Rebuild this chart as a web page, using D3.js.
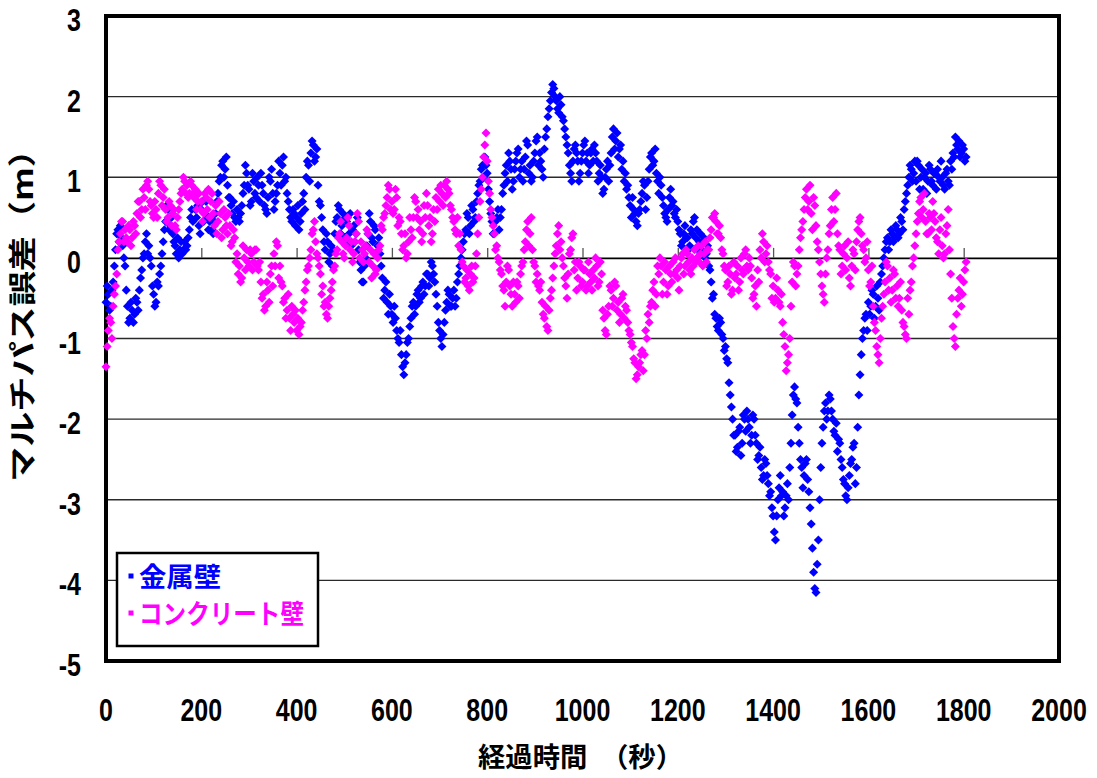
<!DOCTYPE html>
<html><head><meta charset="utf-8">
<script src="https://cdn.jsdelivr.net/npm/d3@7"></script>
<style>body{margin:0;background:#fff} svg{display:block}</style>
</head><body>
<svg id="chart" width="1097" height="778"></svg>
<script>
// ---- data (in metres) ----
const seriesNames = ["金属壁", "コンクリート壁"];
const seriesColors = ["#0000ff", "#ff00ff"];
const sampleStep = 5;      // seconds between consecutive values of one array
const halfOffset = 2.5;    // the "Half" arrays start at 2.5 s
// 金属壁, samples at 0, 5, 10, ... s
const metalWall = [
-0.55,-0.45,-0.6,-0.3,0.1,0.35,0.4,0.15,-0.1,-0.6,-0.75,-0.65,-0.7,-0.55,-0.4,-0.15,0.05,0.3,0.15,-0.1,
-0.45,-0.55,-0.35,-0.1,0.2,0.45,0.6,0.4,0.3,0.15,0.25,0.1,0.05,0.2,0.15,0.35,0.6,0.75,0.5,0.4,
0.6,0.45,0.7,0.35,0.5,0.3,0.55,0.8,1.0,1.2,1.1,0.9,0.75,0.55,0.5,0.6,0.45,0.65,0.9,1.05,
0.85,0.7,0.95,0.75,0.9,1.05,0.8,0.6,0.75,0.95,0.8,0.7,0.9,1.05,1.15,0.95,0.8,0.6,0.45,0.55,
0.5,0.35,0.55,0.8,1.0,1.15,1.3,1.4,1.25,0.9,0.65,0.35,0.1,0.2,0.05,-0.1,0.3,0.5,0.6,0.4,
0.25,0.45,0.3,0.15,0.4,0.3,0.1,-0.15,-0.3,0.0,0.3,0.45,0.2,0.35,0.15,0.05,-0.25,-0.4,-0.55,-0.45,
-0.7,-0.6,-0.9,-1.05,-1.2,-1.45,-1.2,-1.0,-0.75,-0.55,-0.6,-0.4,-0.5,-0.3,-0.35,-0.2,-0.25,-0.1,-0.3,-0.6,
-0.9,-1.1,-0.8,-0.55,-0.45,-0.6,-0.4,-0.5,-0.2,0.0,0.2,0.35,0.5,0.4,0.6,0.5,0.8,0.95,1.15,1.25,
1.05,0.7,0.45,0.3,0.5,0.35,0.6,0.9,1.15,1.3,1.1,0.95,1.2,1.35,1.1,0.95,1.25,1.4,1.15,1.0,
1.3,1.5,1.3,1.1,1.35,1.6,1.85,2.05,2.1,1.95,1.8,1.9,1.7,1.5,1.3,1.05,1.2,1.4,1.2,1.05,
1.3,1.45,1.3,1.15,1.35,1.4,1.2,1.05,1.0,0.85,1.1,0.95,1.3,1.6,1.45,1.25,1.4,1.2,1.05,0.9,
0.65,0.75,0.55,0.4,0.6,0.8,0.9,0.75,1.1,1.3,1.2,1.05,0.8,0.9,0.65,0.5,0.6,0.85,0.7,0.5,
0.45,0.3,0.2,0.4,0.25,0.15,0.3,0.5,0.35,0.2,0.1,0.25,0.05,-0.1,-0.3,-0.45,-0.75,-0.9,-0.8,-1.0,
-1.1,-1.3,-1.7,-2.0,-2.2,-2.35,-2.1,-2.3,-2.0,-1.9,-2.1,-2.2,-2.0,-2.3,-2.45,-2.6,-2.7,-2.55,-2.8,-2.9,
-3.2,-3.5,-3.0,-2.7,-2.9,-3.1,-2.8,-2.6,-1.95,-1.6,-1.8,-2.3,-2.6,-2.7,-2.5,-2.9,-3.3,-3.9,-4.15,-3.5,
-2.6,-2.1,-1.8,-1.9,-1.75,-2.0,-2.2,-2.4,-2.3,-2.6,-2.8,-3.0,-2.7,-2.5,-2.3,-2.6,-1.7,-1.2,-0.9,-0.7,
-0.55,-0.6,-0.45,-0.6,-0.5,-0.3,-0.1,0.1,0.25,0.2,0.3,0.25,0.35,0.3,0.45,0.6,0.8,1.0,1.1,1.05,
0.95,1.15,1.0,0.85,1.05,0.95,1.1,0.9,1.05,1.1,0.95,1.0,0.85,1.1,0.9,1.1,1.25,1.4,1.45,1.3,
1.35,1.25
];
// 金属壁, samples at 2.5, 7.5, 12.5, ... s
const metalWallHalf = [
-0.35,-0.65,-0.4,-0.1,0.3,0.2,0.25,0.0,-0.4,-0.8,-0.55,-0.8,-0.5,-0.65,-0.25,0.0,0.2,0.05,0.0,-0.35,
-0.6,-0.3,-0.2,0.05,0.35,0.65,0.35,0.5,0.2,0.05,0.0,0.2,0.1,0.1,0.25,0.5,0.45,0.6,0.65,0.3,
0.7,0.55,0.5,0.45,0.35,0.45,0.7,0.95,1.15,1.0,1.25,0.75,0.65,0.7,0.45,0.5,0.55,0.8,1.15,0.9,
0.65,1.05,0.8,1.0,0.7,0.9,0.65,0.55,1.0,1.1,0.6,0.8,1.2,0.9,1.25,1.0,0.7,0.5,0.6,0.4,
0.65,0.45,0.7,0.6,1.2,0.95,1.45,1.2,1.35,0.7,0.5,0.2,0.3,-0.05,0.15,0.1,0.45,0.65,0.3,0.55,
0.5,0.2,0.55,0.35,0.2,0.5,-0.05,-0.3,-0.1,0.15,0.55,0.25,0.4,0.05,0.25,-0.1,-0.5,-0.3,-0.7,-0.6,
-0.8,-0.75,-1.0,-0.9,-1.35,-1.3,-1.05,-0.85,-0.6,-0.7,-0.45,-0.55,-0.35,-0.45,-0.2,-0.35,-0.05,-0.2,-0.45,-0.8,
-1.0,-0.95,-0.65,-0.4,-0.6,-0.5,-0.6,-0.3,-0.1,0.1,0.3,0.55,0.3,0.65,0.45,0.7,0.9,1.1,1.0,1.15,
0.85,0.55,0.3,0.45,0.6,0.5,0.8,1.05,0.95,1.2,0.85,1.1,1.3,1.0,1.2,1.1,1.45,1.05,0.95,1.2,
1.45,1.15,1.2,1.0,1.5,1.75,1.95,2.15,2.0,1.85,2.0,1.75,1.6,1.4,1.15,0.95,1.35,1.3,0.95,1.2,
1.4,1.2,1.05,1.3,1.2,1.3,0.95,1.15,0.8,1.0,1.2,1.15,1.5,1.35,1.55,1.35,1.1,0.95,0.85,0.75,
0.5,0.6,0.45,0.55,0.7,0.95,0.6,0.95,1.25,1.15,1.35,0.95,1.0,0.75,0.55,0.45,0.75,0.65,0.55,0.6,
0.35,0.15,0.3,0.25,0.1,0.35,0.45,0.25,0.1,0.3,0.2,0.0,0.15,-0.15,-0.5,-0.7,-0.85,-0.75,-0.95,-1.15,
-1.25,-1.55,-1.85,-2.2,-2.4,-2.15,-2.45,-1.95,-2.15,-2.0,-2.3,-1.95,-2.2,-2.5,-2.35,-2.75,-2.5,-2.7,-2.95,-3.1,
-3.4,-3.2,-2.85,-2.95,-3.2,-2.95,-3.0,-2.3,-1.7,-1.75,-2.1,-2.5,-2.85,-2.55,-2.75,-3.1,-3.6,-4.1,-3.8,-3.0,
-2.3,-1.9,-2.0,-1.7,-1.9,-2.15,-2.05,-2.25,-2.5,-2.75,-2.95,-2.85,-2.55,-2.35,-2.8,-2.1,-1.45,-1.0,-0.75,-0.9,
-0.7,-0.4,-0.75,-0.35,-0.65,-0.2,0.0,0.2,0.1,0.35,0.2,0.4,0.25,0.5,0.35,0.7,0.9,1.15,0.95,1.2,
1.2,0.85,1.1,1.0,0.8,1.15,0.95,1.05,0.85,1.0,1.2,0.9,1.05,0.95,1.2,1.3,1.5,1.35,1.25,1.4,
1.2
];
// コンクリート壁, samples at 0, 5, 10, ... s
const concreteWall = [
-1.35,-0.9,-0.8,-0.6,-0.35,0.1,0.3,0.45,0.35,0.2,0.35,0.25,0.4,0.55,0.7,0.6,0.75,0.9,0.85,0.65,
0.5,0.6,0.8,0.9,0.75,0.6,0.5,0.65,0.55,0.4,0.5,0.7,0.85,0.95,0.9,0.8,0.9,0.75,0.6,0.8,
0.7,0.55,0.75,0.85,0.7,0.55,0.65,0.45,0.55,0.35,0.5,0.3,0.4,0.2,0.25,0.05,-0.1,-0.25,0.0,0.1,
-0.1,0.05,-0.05,0.1,-0.15,-0.3,-0.45,-0.6,-0.4,-0.2,-0.35,-0.1,0.15,-0.1,-0.35,-0.5,-0.65,-0.75,-0.6,-0.8,
-0.9,-0.95,-0.8,-0.55,-0.3,-0.1,0.1,0.35,0.2,0.0,-0.2,-0.35,-0.55,-0.75,-0.5,-0.3,-0.1,0.1,0.3,0.2,
0.0,0.25,0.4,0.2,0.05,0.3,0.45,0.2,-0.05,0.15,0.3,0.1,-0.1,-0.2,0.0,0.15,0.35,0.55,0.75,0.85,
0.7,0.6,0.75,0.5,0.3,0.15,0.0,0.2,0.35,0.5,0.7,0.6,0.45,0.3,0.5,0.65,0.5,0.3,0.45,0.6,
0.7,0.8,0.9,0.95,0.8,0.6,0.45,0.3,0.15,0.1,-0.1,-0.25,-0.35,-0.2,-0.3,-0.1,0.3,0.7,1.0,1.4,
1.2,0.8,0.5,0.3,0.15,-0.05,-0.2,-0.4,-0.3,-0.15,-0.45,-0.3,-0.55,-0.35,-0.2,-0.05,0.2,0.45,0.3,0.1,
-0.1,-0.2,-0.4,-0.55,-0.75,-0.85,-0.65,-0.4,-0.1,0.15,0.4,0.2,-0.1,-0.35,-0.2,0.1,0.3,-0.05,-0.25,-0.1,
-0.3,-0.15,-0.35,-0.2,-0.4,-0.25,-0.1,-0.3,-0.2,-0.75,-0.95,-0.6,-0.4,-0.5,-0.35,-0.55,-0.7,-0.45,-0.6,-0.8,
-0.95,-1.1,-1.3,-1.45,-1.3,-1.15,-1.2,-1.0,-0.8,-0.55,-0.3,-0.45,-0.2,-0.1,-0.3,-0.15,-0.35,-0.2,-0.05,0.0,
-0.25,-0.1,0.05,-0.1,0.05,-0.15,0.0,0.1,0.0,-0.05,0.15,0.05,-0.05,0.1,0.35,0.5,0.45,0.3,0.25,0.05,
-0.15,-0.3,-0.2,-0.4,-0.25,-0.1,-0.3,-0.15,0.05,-0.1,0.0,-0.25,-0.45,-0.6,-0.3,0.0,0.2,0.05,-0.05,-0.2,
-0.35,-0.5,-0.4,-0.6,-0.8,-1.1,-1.3,-1.0,-0.3,-0.1,-0.2,0.1,0.35,0.6,0.85,0.7,0.55,0.75,0.4,0.1,
-0.2,-0.45,-0.2,0.1,0.4,0.75,0.6,0.3,0.1,-0.1,0.15,0.0,-0.25,-0.1,0.05,0.2,0.45,0.3,0.1,0.0,
-0.15,-0.3,-0.6,-0.9,-1.2,-1.0,-0.6,-0.3,-0.1,-0.25,-0.4,-0.2,-0.35,-0.5,-0.65,-0.85,-1.0,-0.7,-0.3,0.0,
0.3,0.55,0.75,0.6,0.45,0.3,0.5,0.7,0.45,0.2,0.35,0.15,0.05,0.4,0.1,-0.5,-1.0,-0.7,-0.4,-0.6,
-0.3,-0.05
];
// コンクリート壁, samples at 2.5, 7.5, 12.5, ... s
const concreteWallHalf = [
-1.1,-0.75,-1.0,-0.45,-0.2,0.2,0.45,0.2,0.25,0.4,0.15,0.45,0.3,0.7,0.5,0.85,0.6,0.95,0.7,0.55,
0.7,0.5,0.95,0.65,0.85,0.45,0.7,0.4,0.6,0.35,0.6,0.8,1.0,0.8,0.75,0.95,0.8,0.85,0.7,0.6,
0.45,0.8,0.6,0.5,0.8,0.4,0.3,0.7,0.25,0.6,0.4,0.55,0.15,0.35,-0.05,-0.2,-0.3,0.15,-0.15,-0.05,
0.1,-0.15,0.1,-0.1,-0.05,-0.5,-0.65,-0.3,-0.55,-0.1,0.05,0.2,-0.25,-0.3,-0.55,-0.75,-0.45,-0.9,-0.7,-0.65,
-0.75,-0.85,-0.65,-0.4,-0.15,0.0,0.3,0.45,0.05,-0.1,-0.45,-0.6,-0.7,-0.6,-0.4,-0.15,0.05,0.25,0.45,0.05,
0.15,0.5,0.1,-0.05,0.2,0.55,0.0,0.1,0.05,0.35,-0.05,-0.25,0.05,-0.15,0.1,0.4,0.5,0.65,0.9,0.6,
0.55,0.85,0.4,0.45,0.1,0.3,0.05,0.5,0.25,0.75,0.5,0.35,0.2,0.65,0.8,0.4,0.2,0.6,0.75,0.85,
0.9,0.65,0.75,0.85,0.65,0.5,0.35,0.5,0.3,-0.05,-0.3,-0.15,-0.4,-0.1,-0.25,0.05,0.5,0.85,1.25,1.55,
0.95,0.6,0.4,0.1,0.0,-0.15,-0.35,-0.6,-0.1,-0.35,-0.6,-0.45,-0.3,-0.5,-0.1,0.1,0.35,0.15,0.5,-0.05,
-0.3,-0.35,-0.3,-0.7,-0.6,-0.9,-0.5,-0.25,0.05,0.3,0.1,0.0,-0.25,-0.5,0.05,0.25,-0.15,-0.4,-0.05,-0.35,
-0.15,-0.4,-0.05,-0.3,-0.15,0.0,-0.35,-0.05,-0.65,-0.9,-0.7,-0.35,-0.6,-0.3,-0.65,-0.8,-0.5,-0.75,-0.65,-0.9,
-1.05,-1.25,-1.5,-1.35,-1.2,-1.4,-0.9,-0.7,-0.6,-0.4,-0.6,-0.1,0.0,-0.45,-0.05,-0.45,-0.1,-0.3,-0.2,-0.15,
-0.4,0.0,-0.2,0.1,-0.05,-0.2,-0.1,-0.05,0.15,0.05,-0.1,0.2,0.1,0.25,0.5,0.55,0.3,0.4,0.1,-0.1,
-0.35,-0.1,-0.45,-0.05,-0.2,-0.4,0.0,-0.2,0.1,-0.15,-0.1,-0.5,-0.35,-0.15,0.1,0.3,-0.05,0.15,-0.15,-0.5,
-0.55,-0.25,-0.55,-0.45,-0.95,-1.4,-1.2,-0.6,-0.05,-0.35,-0.1,0.25,0.45,0.75,0.6,0.9,0.35,0.65,0.2,-0.05,
-0.35,-0.55,0.0,0.3,0.6,0.45,0.8,0.15,-0.2,0.05,-0.15,0.2,-0.35,0.1,-0.15,0.35,0.5,0.15,-0.05,0.2,
-0.35,-0.1,-0.8,-1.1,-1.3,-0.75,-0.45,-0.05,-0.4,-0.55,-0.15,-0.5,-0.6,-0.3,-0.8,-0.95,-0.5,-0.4,-0.1,0.15,
0.45,0.7,0.5,0.8,0.3,0.55,0.35,0.55,0.25,0.05,0.5,0.0,0.3,0.6,-0.2,-0.85,-1.1,-0.5,-0.25,-0.45,
-0.15
];
const xTickValues = [0, 200, 400, 600, 800, 1000, 1200, 1400, 1600, 1800, 2000];
const yTickValues = [-5, -4, -3, -2, -1, 0, 1, 2, 3];
const xTitle = "経過時間　（秒）";
const yTitle = "マルチパス誤差（m）";

// ---- drawing ----
const svg = d3.select("#chart");
const W = 1097, H = 778;
const plot = {left: 106, right: 1059, top: 16, bottom: 661};
const x = d3.scaleLinear().domain([0, 2000]).range([plot.left, plot.right]);
const y = d3.scaleLinear().domain([-5, 3]).range([plot.bottom, plot.top]);

svg.append("rect").attr("width", W).attr("height", H).attr("fill", "#fff");

// horizontal gridlines
svg.append("g").selectAll("line")
  .data(yTickValues.filter(v => v !== 0 && v !== -5 && v !== 3))
  .join("line")
  .attr("x1", plot.left).attr("x2", plot.right)
  .attr("y1", d => y(d)).attr("y2", d => y(d))
  .attr("stroke", "#2a2a2a").attr("stroke-width", 1.3);

// x axis crossing at y = 0, ticks pointing up; labels sit below the plot
const xAxisG = svg.append("g").attr("transform", `translate(0,${y(0)})`)
  .call(d3.axisTop(x).tickValues(xTickValues.filter(v => v > 0 && v < 2000)).tickSize(10).tickFormat(""));
xAxisG.select(".domain").attr("stroke", "#000").attr("stroke-width", 1.6);
xAxisG.selectAll(".tick line").attr("stroke", "#555").attr("stroke-width", 1.3);

// plot border
svg.append("rect")
  .attr("x", plot.left).attr("y", plot.top)
  .attr("width", plot.right - plot.left).attr("height", plot.bottom - plot.top)
  .attr("fill", "none").attr("stroke", "#000").attr("stroke-width", 4);

// points (diamond markers)
const marker = d3.symbol().type(d3.symbolDiamond2).size(52);
const seriesArrays = [[metalWall, metalWallHalf], [concreteWall, concreteWallHalf]];
seriesArrays.forEach(([whole, half], si) => {
  const pts = whole.map((v, i) => ({t: i * sampleStep, v}))
    .concat(half.map((v, i) => ({t: halfOffset + i * sampleStep, v})))
    .sort((a, b) => a.t - b.t);
  svg.append("g").selectAll("path")
    .data(pts)
    .join("path")
    .attr("d", marker)
    .attr("transform", d => `translate(${x(d.t)},${y(d.v)})`)
    .attr("fill", seriesColors[si]);
});

// tick labels (tall, narrow look of the original)
const numFont = "'Liberation Sans', Arial, sans-serif";
function tallText(px, py, str, anchor) {
  svg.append("text")
    .attr("transform", `translate(${px},${py}) scale(1,1.25)`)
    .attr("text-anchor", anchor)
    .attr("font-family", numFont).attr("font-weight", "bold")
    .attr("font-size", 25).attr("fill", "#000")
    .text(str);
}
yTickValues.forEach(v => tallText(81, y(v) + 15, String(v), "end"));
xTickValues.forEach(v => tallText(x(v), 721, String(v), "middle"));

// axis titles
const cjk = "'Noto Sans CJK JP', sans-serif";
svg.append("text")
  .attr("x", 478).attr("y", 767)
  .attr("textLength", 205).attr("lengthAdjust", "spacingAndGlyphs")
  .attr("font-family", cjk).attr("font-weight", "bold").attr("font-size", 27)
  .text(xTitle);
svg.append("text")
  .attr("transform", `translate(33,482) rotate(-90)`)
  .attr("textLength", 350).attr("lengthAdjust", "spacingAndGlyphs")
  .attr("font-family", cjk).attr("font-weight", "bold").attr("font-size", 28)
  .text(yTitle);

// legend
const lg = svg.append("g");
lg.append("rect").attr("x", 117).attr("y", 553).attr("width", 201).attr("height", 93)
  .attr("fill", "#fff").attr("stroke", "#000").attr("stroke-width", 2.5);
const legendTextLen = [82, 165];
seriesNames.forEach((name, i) => {
  const cy = 576 + i * 37;
  lg.append("rect").attr("x", 128.5).attr("y", cy - 2.5).attr("width", 5).attr("height", 5)
    .attr("fill", seriesColors[i]);
  lg.append("text").attr("x", 139).attr("y", cy + 11)
    .attr("textLength", legendTextLen[i]).attr("lengthAdjust", "spacingAndGlyphs")
    .attr("font-family", cjk).attr("font-weight", "bold").attr("font-size", 27)
    .attr("fill", seriesColors[i]).text(name);
});
</script>
</body></html>
